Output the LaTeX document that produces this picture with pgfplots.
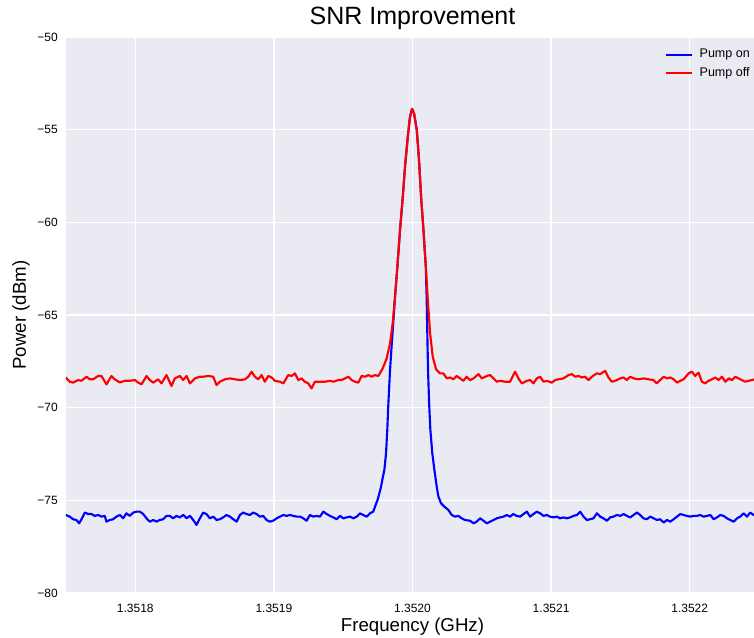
\documentclass[border=0pt]{standalone}
\usepackage{fontspec}
\setmainfont{Liberation Sans}
\usepackage{pgfplots}
\pgfplotsset{compat=1.18}
\definecolor{sbbg}{HTML}{EAEAF2}
\begin{document}
\begin{tikzpicture}
\begin{axis}[
  at={(49.5pt,33pt)}, anchor=south west,
  scale only axis, width=519.75pt, height=417pt,
  xmin=-250, xmax=250, ymin=-80, ymax=-50,
  xtick={-200,-100,0,100,200},
  xticklabels={1.3518,1.3519,1.3520,1.3521,1.3522},
  ytick={-80,-75,-70,-65,-60,-55,-50},
  yticklabels={−80,−75,−70,−65,−60,−55,−50},
  major tick length=0pt,
  axis line style={draw=none},
  axis background/.style={fill=sbbg},
  grid=major, major grid style={white, line width=1pt},
  tick label style={font=\fontsize{9}{9}\selectfont, inner sep=0pt},
  xticklabel style={yshift=-8.25pt},
  yticklabel style={xshift=-6pt},
  title={SNR Improvement},
  title style={font=\fontsize{18.75}{18.75}\selectfont, at={(axis description cs:0.5,1)}, anchor=base, yshift=3.5pt, inner sep=0pt},
  xlabel={Frequency (GHz)},
  xlabel style={font=\fontsize{14}{14}\selectfont, at={([yshift=-28.5pt]axis description cs:0.5,0)}, anchor=base, inner sep=0pt},
  ylabel={Power (dBm)},
  ylabel style={font=\fontsize{14}{14}\selectfont, at={([xshift=-30pt]axis description cs:0,0.5)}, rotate=0, anchor=base, inner sep=0pt},
  legend style={at={(axis description cs:0.858,0.9856)}, anchor=north west, draw=none, fill=none, font=\fontsize{9.4}{9.4}\selectfont, row sep=4pt, column sep=4pt, nodes={inner sep=1pt}},
  legend cell align=left,
  legend image code/.code={\draw[#1] (0pt,0pt) -- (19.5pt,0pt);},
  every axis plot/.append style={line width=1.6pt, line join=round, no marks},
]
\addplot[color=blue] coordinates {
(-250.2,-75.79) (-247.3,-75.88) (-244.9,-76.02) (-242.5,-76.06) (-240.5,-76.24) (-238.1,-75.92) (-236.4,-75.66) (-234.0,-75.74) (-231.6,-75.74) (-229.2,-75.84) (-226.8,-75.79) (-224.4,-75.88) (-222.0,-75.84) (-220.8,-76.15) (-218.4,-76.06) (-216.0,-76.02) (-213.6,-75.88) (-211.2,-75.79) (-208.8,-75.97) (-206.4,-75.70) (-204.0,-75.84) (-201.5,-75.66) (-199.1,-75.61) (-196.7,-75.61) (-194.3,-75.74) (-191.9,-75.97) (-189.5,-76.15) (-187.1,-76.06) (-184.7,-76.15) (-182.3,-76.06) (-179.9,-76.02) (-177.5,-75.84) (-175.1,-75.84) (-172.7,-75.97) (-170.3,-75.84) (-167.9,-75.92) (-165.4,-75.79) (-163.0,-75.97) (-160.6,-75.84) (-158.2,-76.06) (-155.8,-76.33) (-153.4,-75.97) (-151.0,-75.66) (-148.6,-75.74) (-146.2,-75.97) (-143.8,-75.88) (-141.4,-76.06) (-139.0,-76.02) (-136.6,-75.92) (-134.2,-75.79) (-131.7,-75.88) (-129.3,-76.02) (-126.9,-76.15) (-124.5,-75.79) (-122.1,-75.66) (-119.7,-75.74) (-117.3,-75.79) (-114.9,-75.66) (-112.5,-75.74) (-110.1,-75.88) (-107.7,-75.84) (-105.3,-76.06) (-102.9,-76.15) (-100.5,-76.10) (-98.0,-75.97) (-95.6,-75.88) (-93.2,-75.79) (-90.8,-75.84) (-88.4,-75.79) (-86.0,-75.84) (-83.6,-75.88) (-81.2,-75.88) (-78.8,-75.97) (-76.4,-76.10) (-74.0,-75.79) (-71.6,-75.88) (-69.2,-75.84) (-66.8,-75.88) (-64.3,-75.61) (-61.9,-75.74) (-59.5,-75.84) (-57.1,-75.92) (-54.7,-76.02) (-52.3,-75.84) (-49.9,-75.97) (-47.5,-75.92) (-45.1,-75.88) (-42.7,-75.97) (-40.3,-75.88) (-37.9,-75.70) (-35.5,-75.79) (-33.1,-75.88) (-30.7,-75.70) (-28.3,-75.61) (-26.6,-75.25) (-25.1,-74.95) (-24.2,-74.71) (-22.7,-74.27) (-21.8,-73.90) (-20.3,-73.36) (-19.1,-72.47) (-18.2,-71.21) (-17.4,-69.77) (-16.2,-67.97) (-15.0,-66.6) (-13.6,-65.1) (-12.6,-64.01) (-10.9,-62.39) (-9.0,-60.41) (-7.0,-58.62) (-5.4,-57.00) (-3.4,-55.38) (-1.8,-54.30) (-0.3,-53.88) (1.1,-54.12) (3.1,-55.02) (4.7,-56.64) (6.2,-58.62) (7.9,-60.41) (9.6,-62.39) (10.2,-64.0) (10.7,-66.0) (11.2,-67.97) (12.0,-69.77) (12.9,-71.21) (14.3,-72.47) (15.8,-73.36) (17.5,-74.27) (18.7,-74.80) (20.6,-75.16) (23.0,-75.34) (25.9,-75.52) (28.3,-75.79) (30.7,-75.88) (33.1,-75.84) (35.5,-75.97) (37.9,-76.06) (41.5,-76.10) (44.0,-76.24) (46.4,-76.15) (48.8,-75.97) (51.2,-76.10) (53.6,-76.24) (56.0,-76.15) (58.4,-76.06) (60.8,-75.97) (63.2,-75.92) (65.6,-75.88) (68.0,-75.79) (70.4,-75.88) (72.8,-75.74) (75.2,-75.84) (77.7,-75.88) (80.1,-75.74) (82.5,-75.61) (84.9,-75.88) (87.3,-75.74) (89.7,-75.61) (92.1,-75.70) (94.5,-75.84) (96.9,-75.79) (99.3,-75.88) (101.7,-75.92) (104.1,-75.88) (106.5,-75.97) (108.9,-75.92) (111.4,-75.97) (113.8,-75.92) (116.2,-75.84) (118.6,-75.79) (121.0,-75.61) (123.4,-75.88) (125.8,-76.06) (128.2,-76.02) (130.6,-75.97) (133.0,-75.70) (135.4,-75.88) (137.8,-75.97) (140.2,-76.10) (142.6,-75.92) (145.0,-75.88) (147.5,-75.79) (149.9,-75.84) (152.3,-75.74) (154.7,-75.84) (157.1,-75.92) (159.5,-75.79) (161.9,-75.66) (164.3,-75.79) (166.7,-75.97) (169.1,-76.02) (171.5,-75.88) (173.9,-75.97) (176.3,-76.06) (178.7,-76.02) (181.2,-76.20) (183.6,-76.06) (186.0,-76.15) (188.4,-76.02) (190.8,-75.88) (193.2,-75.74) (195.6,-75.79) (198.0,-75.84) (200.4,-75.88) (202.8,-75.84) (205.2,-75.84) (207.6,-75.79) (210.0,-75.88) (212.4,-75.84) (214.9,-75.79) (217.3,-76.02) (219.7,-75.92) (222.1,-75.79) (224.5,-75.84) (226.9,-75.97) (229.3,-76.06) (231.7,-76.15) (234.1,-75.97) (236.5,-75.88) (238.9,-75.70) (241.3,-75.88) (243.7,-75.66) (246.1,-75.79) (250.2,-75.75)
};
\addlegendentry{Pump on}
\addplot[color=red] coordinates {
(-250.2,-68.37) (-247.3,-68.60) (-244.9,-68.65) (-241.3,-68.51) (-238.9,-68.55) (-235.2,-68.33) (-232.8,-68.47) (-230.4,-68.47) (-226.8,-68.29) (-224.4,-68.29) (-220.8,-68.74) (-217.2,-68.29) (-214.8,-68.47) (-211.2,-68.64) (-207.6,-68.55) (-204.0,-68.55) (-200.3,-68.51) (-197.9,-68.65) (-195.5,-68.74) (-191.9,-68.29) (-189.5,-68.51) (-187.1,-68.65) (-183.5,-68.47) (-181.1,-68.69) (-177.5,-68.24) (-173.9,-68.83) (-171.5,-68.42) (-167.9,-68.29) (-165.4,-68.51) (-163.0,-68.29) (-160.6,-68.69) (-157.0,-68.42) (-153.4,-68.33) (-151.0,-68.33) (-147.4,-68.29) (-143.8,-68.33) (-141.4,-68.78) (-139.0,-68.60) (-135.4,-68.47) (-131.7,-68.42) (-128.1,-68.47) (-124.5,-68.51) (-120.9,-68.47) (-118.5,-68.33) (-116.1,-68.06) (-113.7,-68.33) (-111.3,-68.47) (-108.9,-68.24) (-106.5,-68.60) (-104.1,-68.29) (-101.7,-68.37) (-99.3,-68.55) (-95.6,-68.60) (-93.2,-68.69) (-89.6,-68.24) (-87.2,-68.29) (-84.8,-68.15) (-82.4,-68.51) (-80.0,-68.42) (-77.6,-68.60) (-75.2,-68.69) (-72.8,-68.96) (-70.4,-68.60) (-66.8,-68.60) (-63.1,-68.60) (-59.5,-68.55) (-57.1,-68.60) (-53.5,-68.51) (-51.1,-68.51) (-48.7,-68.42) (-46.3,-68.33) (-43.9,-68.51) (-41.5,-68.60) (-39.1,-68.65) (-36.7,-68.29) (-34.3,-68.33) (-31.9,-68.24) (-29.5,-68.33) (-27.1,-68.24) (-24.6,-68.29) (-21.5,-67.88) (-18.6,-67.34) (-16.2,-66.53) (-14.3,-65.45) (-12.6,-64.01) (-10.9,-62.39) (-9.0,-60.41) (-7.0,-58.62) (-5.4,-57.00) (-3.4,-55.38) (-1.8,-54.30) (-0.3,-53.88) (1.1,-54.12) (3.1,-55.02) (4.7,-56.64) (6.2,-58.62) (7.9,-60.41) (9.6,-62.39) (11.2,-64.37) (12.7,-65.99) (14.6,-67.25) (17.0,-67.93) (19.9,-68.15) (22.3,-68.15) (24.7,-68.42) (27.1,-68.37) (29.5,-68.47) (31.9,-68.29) (34.3,-68.42) (36.7,-68.55) (39.1,-68.33) (41.5,-68.51) (44.0,-68.42) (47.6,-68.19) (50.0,-68.42) (53.6,-68.29) (56.0,-68.24) (58.4,-68.42) (60.8,-68.60) (63.2,-68.55) (66.8,-68.60) (70.4,-68.60) (74.0,-68.06) (76.4,-68.42) (78.9,-68.69) (82.5,-68.55) (84.9,-68.51) (87.3,-68.69) (89.7,-68.42) (92.1,-68.33) (94.5,-68.60) (96.9,-68.55) (100.5,-68.65) (102.9,-68.51) (105.3,-68.47) (108.9,-68.42) (112.6,-68.24) (115.0,-68.19) (117.4,-68.33) (119.8,-68.29) (122.2,-68.37) (124.6,-68.33) (127.0,-68.51) (129.4,-68.33) (133.0,-68.15) (135.4,-68.19) (139.0,-68.01) (141.4,-68.37) (143.8,-68.60) (146.3,-68.55) (149.9,-68.42) (152.3,-68.37) (154.7,-68.51) (157.1,-68.33) (159.5,-68.42) (163.1,-68.47) (166.7,-68.42) (170.3,-68.47) (173.9,-68.51) (176.3,-68.69) (178.7,-68.51) (181.2,-68.33) (183.6,-68.42) (186.0,-68.37) (188.4,-68.47) (190.8,-68.65) (193.2,-68.55) (195.6,-68.47) (199.2,-68.15) (201.6,-68.06) (204.0,-68.29) (206.4,-68.11) (208.8,-68.60) (211.2,-68.69) (213.6,-68.55) (216.1,-68.47) (218.5,-68.37) (220.9,-68.51) (223.3,-68.33) (225.7,-68.60) (228.1,-68.42) (230.5,-68.51) (232.9,-68.33) (235.3,-68.42) (237.7,-68.51) (240.1,-68.60) (242.5,-68.55) (244.9,-68.51) (246.6,-68.47) (250.2,-68.45)
};
\addlegendentry{Pump off}
\end{axis}
\pgfresetboundingbox
\path[use as bounding box] (0pt,0pt) rectangle (565.5pt,477.75pt);
\end{tikzpicture}
\end{document}
